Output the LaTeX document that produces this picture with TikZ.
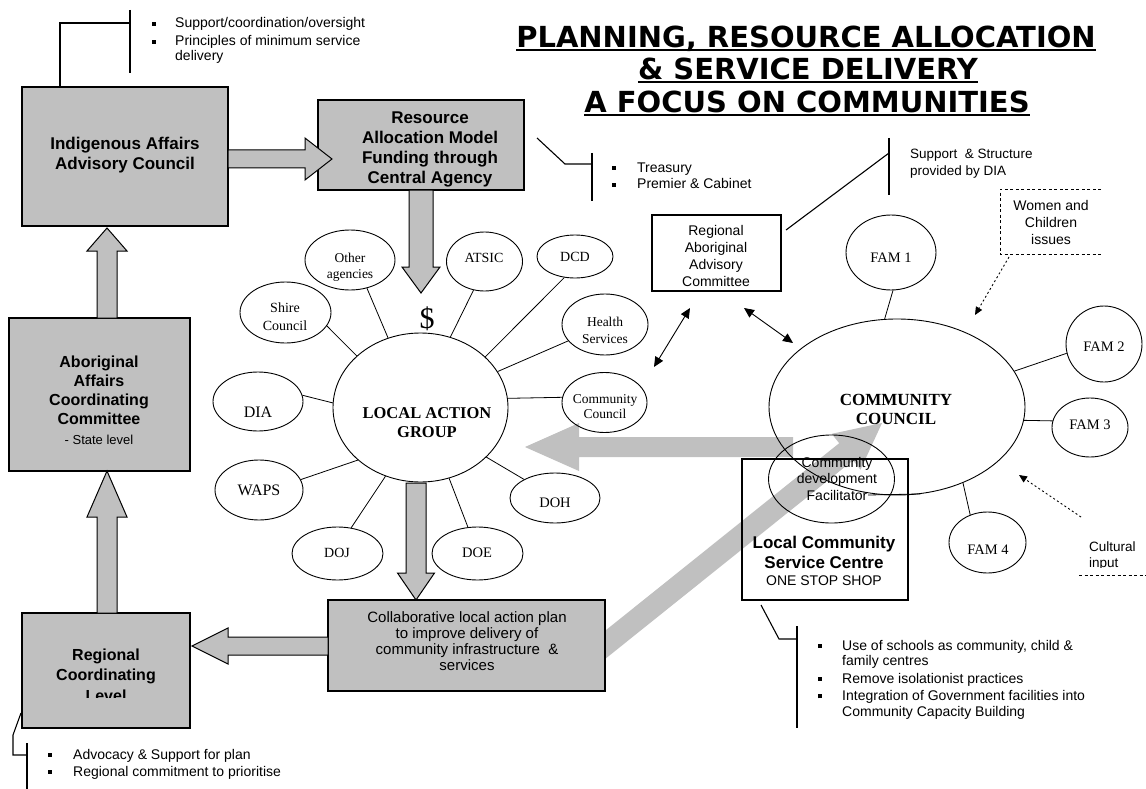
\documentclass[tikz,border=0pt]{standalone}
\usepackage{fontspec}
\setmainfont{Liberation Sans}
\newfontfamily\serf{Liberation Serif}
\newfontfamily\ttlf{DejaVu Sans}
\usetikzlibrary{shapes.geometric,arrows.meta,calc}
\definecolor{boxgray}{HTML}{C0C0C0}
\newcommand\fs[2]{\fontsize{#1}{#2}\selectfont}
\newcommand\sqb{\raisebox{2.2pt}{\rule{4pt}{4pt}}}
\newcommand\blockarrow[6]{%
  \coordinate (ba-h) at ($(#2)!#5!(#1)$);
  \path[#6] ($(#1)!#3!90:(#2)$) -- ($(ba-h)!#3!-90:(#1)$) -- ($(ba-h)!#4!-90:(#1)$) -- (#2) -- ($(ba-h)!#4!90:(#1)$) -- ($(ba-h)!#3!90:(#1)$) -- ($(#1)!#3!-90:(#2)$) -- cycle;}
\begin{document}
\begin{tikzpicture}[x=1pt,y=-1pt,
 gbox/.style={draw, line width=1.2pt, fill=boxgray, inner sep=0pt},
 wbox/.style={draw, line width=1.2pt, inner sep=0pt},
 sat/.style={ellipse, draw, line width=0.9pt, inner sep=0pt},
 sattxt/.style={font=\serf\fs{14}{16}, align=center, inner sep=0pt},
 bld/.style={font=\bfseries\fs{17}{20}, align=center, inner sep=0pt},
 bldser/.style={font=\serf\bfseries\fs{16.5}{19}, align=center, inner sep=0pt},
 reg/.style={font=\fs{14}{16.5}, align=center, inner sep=0pt},
 lst/.style={anchor=base west, inner sep=0pt, font=\fs{14}{15}},
 barrow/.style={fill=boxgray, draw=black, line width=1pt, line join=miter},
 bigarrow/.style={fill=boxgray},
 spoke/.style={line width=0.8pt},
 brk/.style={line width=1.1pt},
 dblarr/.style={line width=0.9pt, {Triangle[length=10pt,width=9pt]}-{Triangle[length=10pt,width=9pt]}},
 dotarr/.style={line width=0.9pt, dash pattern=on 2pt off 2.5pt, -{Triangle[length=8pt,width=7pt]}},
 dsh/.style={line width=0.9pt, dash pattern=on 3pt off 2.5pt},
 ttl/.style={font=\ttlf\bfseries\fs{29}{33}, inner sep=0pt, anchor=base},
]
\fill[white] (0,0) rectangle (1146,789);
\useasboundingbox (0,0) rectangle (1146,789);

% big light arrows (behind)
\coordinate (bl-s) at (793,447); \coordinate (bl-e) at (525,447);
\blockarrow{bl-s}{bl-e}{10pt}{24pt}{54pt}{bigarrow}
\coordinate (bd-s) at (585,661); \coordinate (bd-e) at (882,423);
\blockarrow{bd-s}{bd-e}{11pt}{23pt}{46pt}{bigarrow}

% title
\node[ttl] (t1) at (806,48) {PLANNING, RESOURCE ALLOCATION};
\node[ttl] (t2) at (808,80) {\& SERVICE DELIVERY};
\node[ttl] (t3) at (807,113) {A FOCUS ON COMMUNITIES};
\foreach \t in {t1,t2,t3}
  \draw[line width=2pt] ([yshift=-2.5pt]\t.base west) -- ([yshift=-2.5pt]\t.base east);

% gray boxes
\node[gbox, minimum width=206pt, minimum height=139pt] (iaac) at (125,156.5) {};
\node[bld] (iaact) at (125,155) {Indigenous Affairs\\Advisory Council};
\node[gbox, minimum width=206pt, minimum height=90pt] (res) at (421,145) {};
\node[bld] (rest) at (430,149) {Resource\\Allocation Model\\Funding through\\Central Agency};
\node[gbox, minimum width=181pt, minimum height=153pt] (aacc) at (99.5,394.5) {};
\node[bld, font=\bfseries\fs{16}{19}] (aacct) at (99,390.5) {Aboriginal\\Affairs\\Coordinating\\Committee};
\node[anchor=base, inner sep=0pt, font=\fs{13}{15}] (aaccs) at (99,444.5) {- State level};
\node[gbox, minimum width=168pt, minimum height=115pt] (rcl) at (106,670.5) {};
\node[bld, font=\bfseries\fs{16}{19}, anchor=base] (rcl1) at (106,660) {Regional};
\node[bld, font=\bfseries\fs{16}{19}, anchor=base] (rcl2) at (106,680.5) {Coordinating};
\begin{scope}
\clip (22,613) rectangle (190,697);
\node[bld, font=\bfseries\fs{16}{19}, anchor=base] (rcl3) at (106,701.5) {Level};
\end{scope}
\node[gbox, minimum width=277pt, minimum height=91pt] (collab) at (466.5,645.5) {};
\node[reg, font=\fs{15}{16}] (collabt) at (467,641) {Collaborative local action plan\\to improve delivery of\\community infrastructure \ \&\\services};

% white boxes
\node[wbox, minimum width=129pt, minimum height=76pt] (raac) at (716.5,253) {};
\node[reg, font=\fs{14}{16.7}] (raact) at (716,256) {Regional\\Aboriginal\\Advisory\\Committee};
\node[wbox, minimum width=166pt, minimum height=141pt] (lcsc) at (825,529.5) {};
\node[bld, font=\bfseries\fs{17}{20}] (lcsct) at (824,552) {Local Community\\Service Centre};
\node[anchor=base, inner sep=0pt, font=\fs{14}{16}] (lcscs) at (824,585) {ONE STOP SHOP};

% block arrows
\coordinate (a1s) at (228,159); \coordinate (a1e) at (332,159);
\blockarrow{a1s}{a1e}{9pt}{21pt}{27pt}{barrow}
\coordinate (a2s) at (421,190); \coordinate (a2e) at (421,293);
\blockarrow{a2s}{a2e}{12pt}{19pt}{26pt}{barrow}
\coordinate (a3s) at (107,318); \coordinate (a3e) at (107,228);
\blockarrow{a3s}{a3e}{10pt}{20pt}{23pt}{barrow}
\coordinate (a4s) at (107,613); \coordinate (a4e) at (107,471);
\blockarrow{a4s}{a4e}{10pt}{20pt}{46pt}{barrow}
\coordinate (a5s) at (416,483); \coordinate (a5e) at (416,600);
\blockarrow{a5s}{a5e}{10pt}{18.5pt}{27pt}{barrow}
\coordinate (a6s) at (328,646); \coordinate (a6e) at (192,646);
\blockarrow{a6s}{a6e}{9pt}{18pt}{36pt}{barrow}

\node[font=\serf\fs{30}{30}, inner sep=0pt] (dollar) at (427,319) {\$};

% local action group
\node[sat, minimum width=175pt, minimum height=149pt] (lag) at (420.5,407.5) {};
\node[bldser] (lagt) at (427,422.5) {LOCAL ACTION\\GROUP};
\node[sat, minimum width=90pt, minimum height=60pt] (oth) at (350,260) {};
\node[sattxt, font=\serf\fs{13.5}{16}] (otht) at (350,267.5) {Other\\agencies};
\node[sat, minimum width=76pt, minimum height=59pt] (atsic) at (484.5,261.5) {};
\node[sattxt] (atsict) at (484,258) {ATSIC};
\node[sat, minimum width=76pt, minimum height=43pt] (dcd) at (575,256.5) {};
\node[sattxt] (dcdt) at (575,257) {DCD};
\node[sat, minimum width=91pt, minimum height=61pt] (shire) at (285.5,312.5) {};
\node[sattxt, font=\serf\fs{14}{18}] (shiret) at (285,317) {Shire\\Council};
\node[sat, minimum width=86pt, minimum height=61pt] (health) at (605,324.5) {};
\node[sattxt, font=\serf\fs{13.5}{17}] (healtht) at (605,330.5) {Health\\Services};
\node[sat, minimum width=90pt, minimum height=59pt] (dia) at (258,401.5) {};
\node[sattxt, font=\serf\fs{16}{18}] (diat) at (258,412) {DIA};
\node[sat, minimum width=85pt, minimum height=60pt] (comm) at (604.5,402.5) {};
\node[sattxt, font=\serf\fs{13.5}{15}] (commt) at (605,406.5) {Community\\Council};
\node[sat, minimum width=88pt, minimum height=60pt] (waps) at (259,490) {};
\node[sattxt, font=\serf\fs{16}{18}] (wapst) at (259,490) {WAPS};
\node[sat, minimum width=91pt, minimum height=53pt] (doj) at (337.5,553.5) {};
\node[sattxt] (dojt) at (337,553) {DOJ};
\node[sat, minimum width=91pt, minimum height=53pt] (doe) at (477.5,553.5) {};
\node[sattxt, font=\serf\fs{14.5}{16}] (doet) at (477,553) {DOE};
\node[sat, minimum width=90pt, minimum height=50pt] (doh) at (555,498) {};
\node[sattxt, font=\serf\fs{14.5}{16}] (doht) at (555,503) {DOH};

\draw[spoke] (lag.115) -- (oth.-59);
\draw[spoke] (lag.67) -- (atsic.-111);
\draw[spoke] (lag.38) -- (dcd.-117);
\draw[spoke] (lag.25) -- (health.204);
\draw[spoke] (lag.141) -- (shire.-18);
\draw[spoke] (lag.177) -- (dia.8);
\draw[spoke] (lag.6) -- (comm.173);
\draw[spoke] (lag.220) -- (waps.14);
\draw[spoke] (lag.-117) -- (doj.62);
\draw[spoke] (lag.-68) -- (doe.110);
\draw[spoke] (lag.-37) -- (doh.149);

% community council
\node[sat, minimum width=256pt, minimum height=176pt] (cc) at (897,407) {};
\node[bldser, font=\serf\bfseries\fs{17}{19}] (cct) at (896,409.5) {COMMUNITY\\COUNCIL};
\node[sat, minimum width=126pt, minimum height=88pt] (fac) at (831.5,479) {};
\node[reg, font=\fs{14}{16.5}] (fact) at (837,478.5) {Community\\development\\Facilitator};
\coordinate (facl) at (868,495);
\draw[spoke] (facl) -- (cc.-75);
\node[sat, minimum width=90pt, minimum height=75pt] (fam1) at (891,252.5) {};
\node[sattxt, font=\serf\fs{14.5}{16}] (fam1t) at (891,258) {FAM 1};
\node[sat, minimum width=76pt, minimum height=76pt] (fam2) at (1104,344) {};
\node[sattxt, font=\serf\fs{14.5}{16}] (fam2t) at (1104,347) {FAM 2};
\node[sat, minimum width=76pt, minimum height=59pt] (fam3) at (1090,427.5) {};
\node[sattxt, font=\serf\fs{14.5}{16}] (fam3t) at (1090,425) {FAM 3};
\node[sat, minimum width=77pt, minimum height=61pt] (fam4) at (987.5,542.5) {};
\node[sattxt, font=\serf\fs{14.5}{16}] (fam4t) at (988,550) {FAM 4};
\draw[spoke] (cc.98) -- (fam1.-87);
\draw[spoke] (cc.17) -- (fam2.194);
\draw[spoke] (cc.-6) -- (fam3.170);
\draw[spoke] (cc.-49) -- (fam4.122);

% double arrows
\coordinate (d1a) at (690,308); \coordinate (d1b) at (654,367);
\coordinate (d2a) at (744,308); \coordinate (d2b) at (793,343);
\draw[dblarr] (d1a) -- (d1b);
\draw[dblarr] (d2a) -- (d2b);

% women and children / cultural input
\draw[dsh] (1101,189) -- (1000,189) -- (1000,254) -- (1101,254);
\node[reg, font=\fs{14}{17}] (womt) at (1051,222) {Women and\\Children\\issues};
\coordinate (w1) at (1009,257); \coordinate (w2) at (975,315);
\draw[dotarr] (w1) -- (w2);
\node[anchor=base west, inner sep=0pt, font=\fs{13.5}{16}] (cul1) at (1089,551) {Cultural};
\begin{scope}
\clip (1080,555) rectangle (1146,567.5);
\node[anchor=base west, inner sep=0pt, font=\fs{13.5}{16}] (cul2) at (1089,567) {input};
\end{scope}
\draw[dsh] (1079,575) -- (1146,575);
\coordinate (c1) at (1081,517); \coordinate (c2) at (1019,475);
\draw[dotarr] (c1) -- (c2);

% callout brackets
\draw[brk] (60,86) -- (60,23) -- (130,23);
\draw[brk] (130,10) -- (130,73);
\draw[brk] (537,138) -- (565,164) -- (592,164);
\draw[brk] (592,153) -- (592,201);
\draw[brk] (786,230) -- (889,153);
\draw[brk] (889,138) -- (889,195);
\draw[brk] (21,713) -- (13,735) -- (13,755) -- (27,755);
\draw[brk] (27,743) -- (27,789);
\draw[brk] (761,605) -- (779,639) -- (797,639);
\draw[brk] (797,626) -- (797,728);

% bullet lists
\node[lst] (tlb) at (152,28) {\begin{tabular}[t]{@{}l@{}l@{}}
\makebox[23pt][l]{\sqb} & Support/coordination/oversight\\[3pt]
\makebox[23pt][l]{\sqb} & Principles of minimum service\\
 & delivery\end{tabular}};
\node[lst] (trb) at (612,172) {\begin{tabular}[t]{@{}l@{}l@{}}
\makebox[25pt][l]{\sqb} & Treasury\\[2pt]
\makebox[25pt][l]{\sqb} & Premier \& Cabinet\end{tabular}};
\node[lst, font=\fs{13.5}{17}] (ssb) at (910,159) {\begin{tabular}[t]{@{}l@{}}
Support \ \& Structure\\ provided by DIA\end{tabular}};
\node[lst] (blb) at (48,759) {\begin{tabular}[t]{@{}l@{}l@{}}
\makebox[25pt][l]{\sqb} & Advocacy \& Support for plan\\[2pt]
\makebox[25pt][l]{\sqb} & Regional commitment to prioritise\end{tabular}};
\node[lst, font=\fs{14}{15.5}] (brb) at (818,650) {\begin{tabular}[t]{@{}l@{}l@{}}
\makebox[24pt][l]{\sqb} & Use of schools as community, child \&\\
 & family centres\\[2pt]
\makebox[24pt][l]{\sqb} & Remove isolationist practices\\[2pt]
\makebox[24pt][l]{\sqb} & Integration of Government facilities into\\
 & Community Capacity Building\end{tabular}};
\end{tikzpicture}
\end{document}
